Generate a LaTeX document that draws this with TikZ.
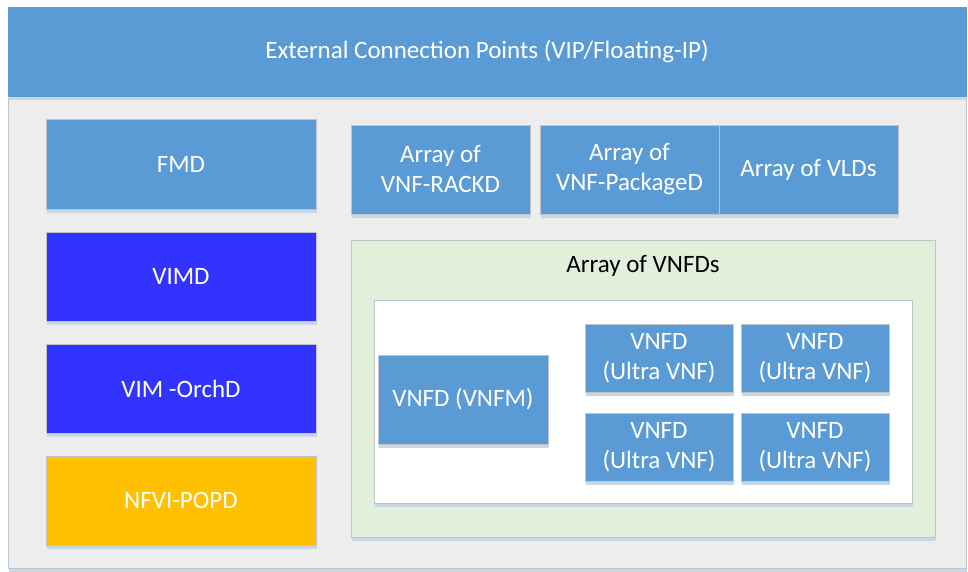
\documentclass[tikz,border=0pt]{standalone}
\usepackage{fontspec}
\setmainfont{Carlito}
\usetikzlibrary{shadows}
\definecolor{mblue}{HTML}{5B9BD5}
\definecolor{dblue}{HTML}{3333FF}
\definecolor{morange}{HTML}{FFC000}
\definecolor{mgrey}{HTML}{EDEDED}
\definecolor{mgreen}{HTML}{E2EFDA}
\definecolor{shadowc}{HTML}{C9D6E4}
\definecolor{edgec}{HTML}{C0C4C8}
\tikzset{
  box/.style={draw=edgec, line width=0.8pt, fill=mblue, text=white, align=center,
    inner sep=0pt, font=\fontsize{25}{30}\selectfont,
    drop shadow={shadow xshift=1pt, shadow yshift=-3.5pt, fill=shadowc, opacity=1}},
  region/.style={draw=edgec, line width=0.8pt, inner sep=0pt,
    drop shadow={shadow xshift=1pt, shadow yshift=-4pt, fill=shadowc, opacity=1}},
}
\begin{document}
\begin{tikzpicture}[x=1pt,y=-1pt]
\useasboundingbox[fill=white] (0,0) rectangle (968,571);
% body
\node[region, fill=mgrey, minimum width=958pt, minimum height=470pt] (body) at (487,333) {};
% top bar
\node[box, line width=0pt, draw=mblue, minimum width=958pt, minimum height=89pt] (ext) at (487,52) {External Connection Points (VIP/Floating-IP)};
% left column
\node[box, minimum width=270pt, minimum height=90pt] (fmd) at (181,164) {FMD};
\node[box, fill=dblue, minimum width=270pt, minimum height=89pt] (vimd) at (181,276.5) {VIMD};
\node[box, fill=dblue, minimum width=270pt, minimum height=89pt] (vimo) at (181,388.5) {VIM -OrchD};
\node[box, fill=morange, minimum width=270pt, minimum height=89pt] (nfvi) at (181,500.5) {NFVI-POPD};
% top row
\node[box, minimum width=179pt, minimum height=89pt] (rack) at (440.5,169.5) {Array of\\VNF-RACKD};
\node[box, minimum width=179pt, minimum height=89pt] (pkg) at (629.5,169.5) {Array of\\VNF-PackageD};
\node[box, minimum width=179pt, minimum height=89pt] (vld) at (808.5,169.5) {Array of VLDs};
% VNFDs region
\node[region, fill=mgreen, minimum width=584pt, minimum height=297pt] (vnfds) at (643,388.5) {};
\node[font=\fontsize{25}{30}\selectfont, text=black] (vnfdt) at (643,266) {Array of VNFDs};
\node[region, fill=white, minimum width=538pt, minimum height=203pt] (inner) at (643,401.5) {};
\node[box, minimum width=170pt, minimum height=89pt] (vnfm) at (463,399.5) {VNFD (VNFM)};
\node[box, minimum width=148pt, minimum height=68pt] (u1) at (659,358) {VNFD\\(Ultra VNF)};
\node[box, minimum width=148pt, minimum height=68pt] (u2) at (815,358) {VNFD\\(Ultra VNF)};
\node[box, minimum width=148pt, minimum height=68pt] (u3) at (659,447) {VNFD\\(Ultra VNF)};
\node[box, minimum width=148pt, minimum height=68pt] (u4) at (815,447) {VNFD\\(Ultra VNF)};
\end{tikzpicture}
\end{document}
